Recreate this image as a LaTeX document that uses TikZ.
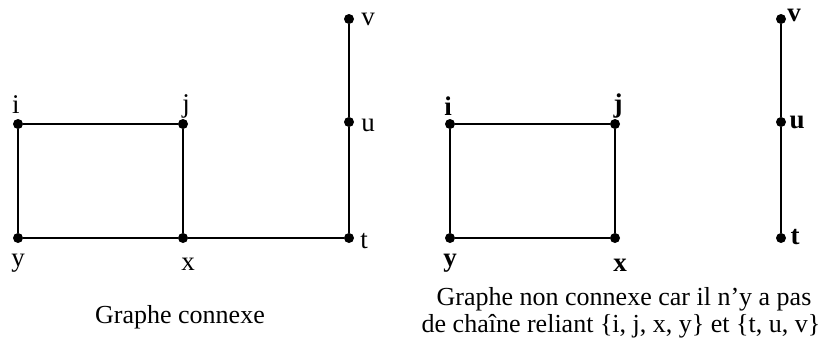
\documentclass[tikz,border=0pt]{standalone}
\usepackage{fontspec}
\setmainfont{Liberation Serif}
\begin{document}
\begin{tikzpicture}[x=1pt,y=-1pt,
  vdot/.style={circle,fill=black,inner sep=0pt,minimum size=10pt},
  lab/.style={anchor=base,inner sep=0pt,font=\fontsize{27}{32}\selectfont},
  blab/.style={lab,font=\fontsize{27}{32}\selectfont\bfseries},
  captext/.style={anchor=base,inner sep=0pt,font=\fontsize{26}{31}\selectfont},
  edgeline/.style={line width=1.8pt}]
\useasboundingbox (0,0) rectangle (824,343);
% left graph
\node[vdot] (i1) at (18,124) {};
\node[vdot] (j1) at (183,124) {};
\node[vdot] (y1) at (18,238) {};
\node[vdot] (x1) at (183,238) {};
\node[vdot] (t1) at (349,238) {};
\node[vdot] (u1) at (349,122) {};
\node[vdot] (v1) at (349,19) {};
\draw[edgeline] (i1) -- (j1) -- (x1) -- (y1) -- (i1);
\draw[edgeline] (x1) -- (t1) -- (u1) -- (v1);
\node[lab] (li1) at (16,113) {i};
\node[lab] (lj1) at (186,112) {j};
\node[lab] (ly1) at (18,266) {y};
\node[lab] (lx1) at (188,270) {x};
\node[lab] (lt1) at (364,248) {t};
\node[lab] (lu1) at (368,131) {u};
\node[lab] (lv1) at (368,25) {v};
\node[captext] (c1) at (180,323) {Graphe connexe};
% right graph
\node[vdot] (i2) at (450,124) {};
\node[vdot] (j2) at (615,124) {};
\node[vdot] (y2) at (450,238) {};
\node[vdot] (x2) at (615,238) {};
\node[vdot] (t2) at (781,238) {};
\node[vdot] (u2) at (781,122) {};
\node[vdot] (v2) at (781,19) {};
\draw[edgeline] (i2) -- (j2) -- (x2) -- (y2) -- (i2);
\draw[edgeline] (t2) -- (u2) -- (v2);
\node[blab] (li2) at (448,115) {i};
\node[blab] (lj2) at (618,112) {j};
\node[blab] (ly2) at (450,266) {y};
\node[blab] (lx2) at (620,271) {x};
\node[blab] (lt2) at (795,244) {t};
\node[blab] (lu2) at (797,128) {u};
\node[blab] (lv2) at (794,21) {v};
\node[captext] (c2) at (624,305) {Graphe non connexe car il n’y a pas};
\node[captext] (c3) at (621,332) {de chaîne reliant \{i, j, x, y\} et \{t, u, v\}};
\end{tikzpicture}
\end{document}
